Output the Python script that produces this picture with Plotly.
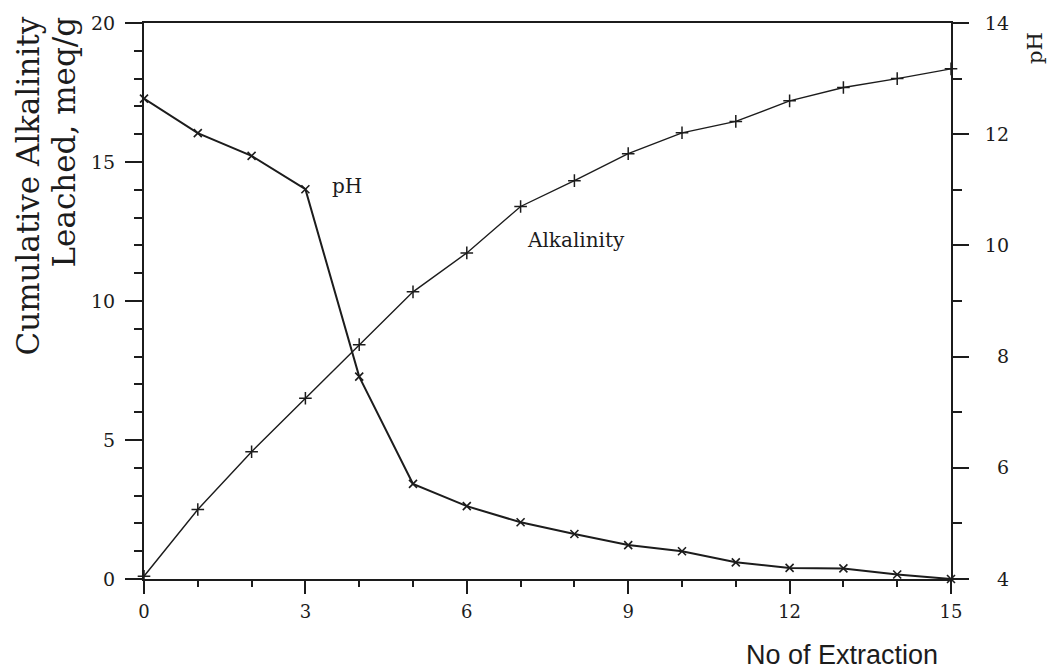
import plotly.graph_objects as go

# ---- data ----
extraction = list(range(16))
alkalinity = [0.1, 2.5, 4.58, 6.5, 8.43, 10.33, 11.73, 13.4, 14.33, 15.3, 16.05, 16.46, 17.2, 17.68, 18.0, 18.35]
ph = [12.64, 12.02, 11.61, 11.01, 7.64, 5.71, 5.31, 5.02, 4.81, 4.61, 4.50, 4.30, 4.20, 4.19, 4.08, 4.0]
x_tick_vals = [0, 3, 6, 9, 12, 15]
y_left_tick_vals = [0, 5, 10, 15, 20]
y_right_tick_vals = [4, 6, 8, 10, 12, 14]
y_right_tick_text = ["\u20074", "\u20076", "\u20078", "10", "12", "14"]

W, H = 1051, 672
ML, MR, MT, MB = 144, 100, 23, 93
PW, PH = W - ML - MR, H - MT - MB


def px(xp):
    return (xp - ML) / PW


def py(yp):
    return (H - MB - yp) / PH


INK = "#1c1c1c"
SERIF = "DejaVu Serif"

fig = go.Figure()
fig.add_trace(go.Scatter(
    x=extraction, y=ph, yaxis="y2", mode="lines+markers", name="pH",
    line=dict(color=INK, width=2),
    marker=dict(symbol="x-thin", size=8, line=dict(color=INK, width=1.6)),
    cliponaxis=False, showlegend=False,
))
fig.add_trace(go.Scatter(
    x=extraction, y=alkalinity, mode="lines+markers", name="Alkalinity",
    line=dict(color=INK, width=1.4),
    marker=dict(symbol="cross-thin", size=9, line=dict(color=INK, width=1.5)),
    cliponaxis=False, showlegend=False,
))

fig.update_layout(
    width=W, height=H,
    margin=dict(l=ML, r=MR, t=MT, b=MB),
    paper_bgcolor="white", plot_bgcolor="white",
    font=dict(family=SERIF, color=INK, size=18),
    xaxis=dict(
        range=[0, 15], tickvals=x_tick_vals, showgrid=False, zeroline=False,
        showline=True, linecolor=INK, linewidth=2, mirror=True,
        ticks="outside", ticklen=13, tickwidth=2, tickcolor=INK,
        minor=dict(dtick=1, ticks="outside", ticklen=6, tickwidth=2, tickcolor=INK),
        tickfont=dict(family=SERIF, size=18, color=INK),
        ticklabelstandoff=2,
    ),
    yaxis=dict(
        range=[0, 20], tickvals=y_left_tick_vals, showgrid=False, zeroline=False,
        showline=True, linecolor=INK, linewidth=2,
        ticks="outside", ticklen=17, tickwidth=2, tickcolor=INK,
        minor=dict(dtick=1, ticks="outside", ticklen=8, tickwidth=2, tickcolor=INK),
        tickfont=dict(family=SERIF, size=19, color=INK),
        ticklabelstandoff=6,
    ),
    yaxis2=dict(
        range=[4, 14], overlaying="y", side="right",
        tickvals=y_right_tick_vals, ticktext=y_right_tick_text,
        showgrid=False, zeroline=False,
        showline=True, linecolor=INK, linewidth=2,
        ticks="outside", ticklen=16, tickwidth=2, tickcolor=INK,
        minor=dict(dtick=1, ticks="outside", ticklen=9, tickwidth=2, tickcolor=INK),
        tickfont=dict(family=SERIF, size=19, color=INK),
        ticklabelstandoff=12,
    ),
)

annos = [
    dict(text="Cumulative Alkalinity", x=px(27), y=py(15), xanchor="center", yanchor="top",
         textangle=-90, font=dict(family=SERIF, size=31, color=INK)),
    dict(text="Leached, meq/g", x=px(63), y=py(15), xanchor="center", yanchor="top",
         textangle=-90, font=dict(family=SERIF, size=31, color=INK)),
    dict(text="pH", x=px(1035), y=py(48), xanchor="center", yanchor="middle",
         textangle=-90, font=dict(family=SERIF, size=21, color=INK)),
    dict(text="No of Extraction", x=px(842), y=py(655), xanchor="center", yanchor="middle",
         font=dict(family="Liberation Sans", size=27, color=INK)),
    dict(text="pH", x=px(347), y=py(186), xanchor="center", yanchor="middle",
         font=dict(family=SERIF, size=20, color=INK)),
    dict(text="Alkalinity", x=px(576), y=py(240), xanchor="center", yanchor="middle",
         font=dict(family=SERIF, size=20, color=INK)),
]
for a in annos:
    fig.add_annotation(xref="paper", yref="paper", showarrow=False, **a)

fig.write_html("out.html")
